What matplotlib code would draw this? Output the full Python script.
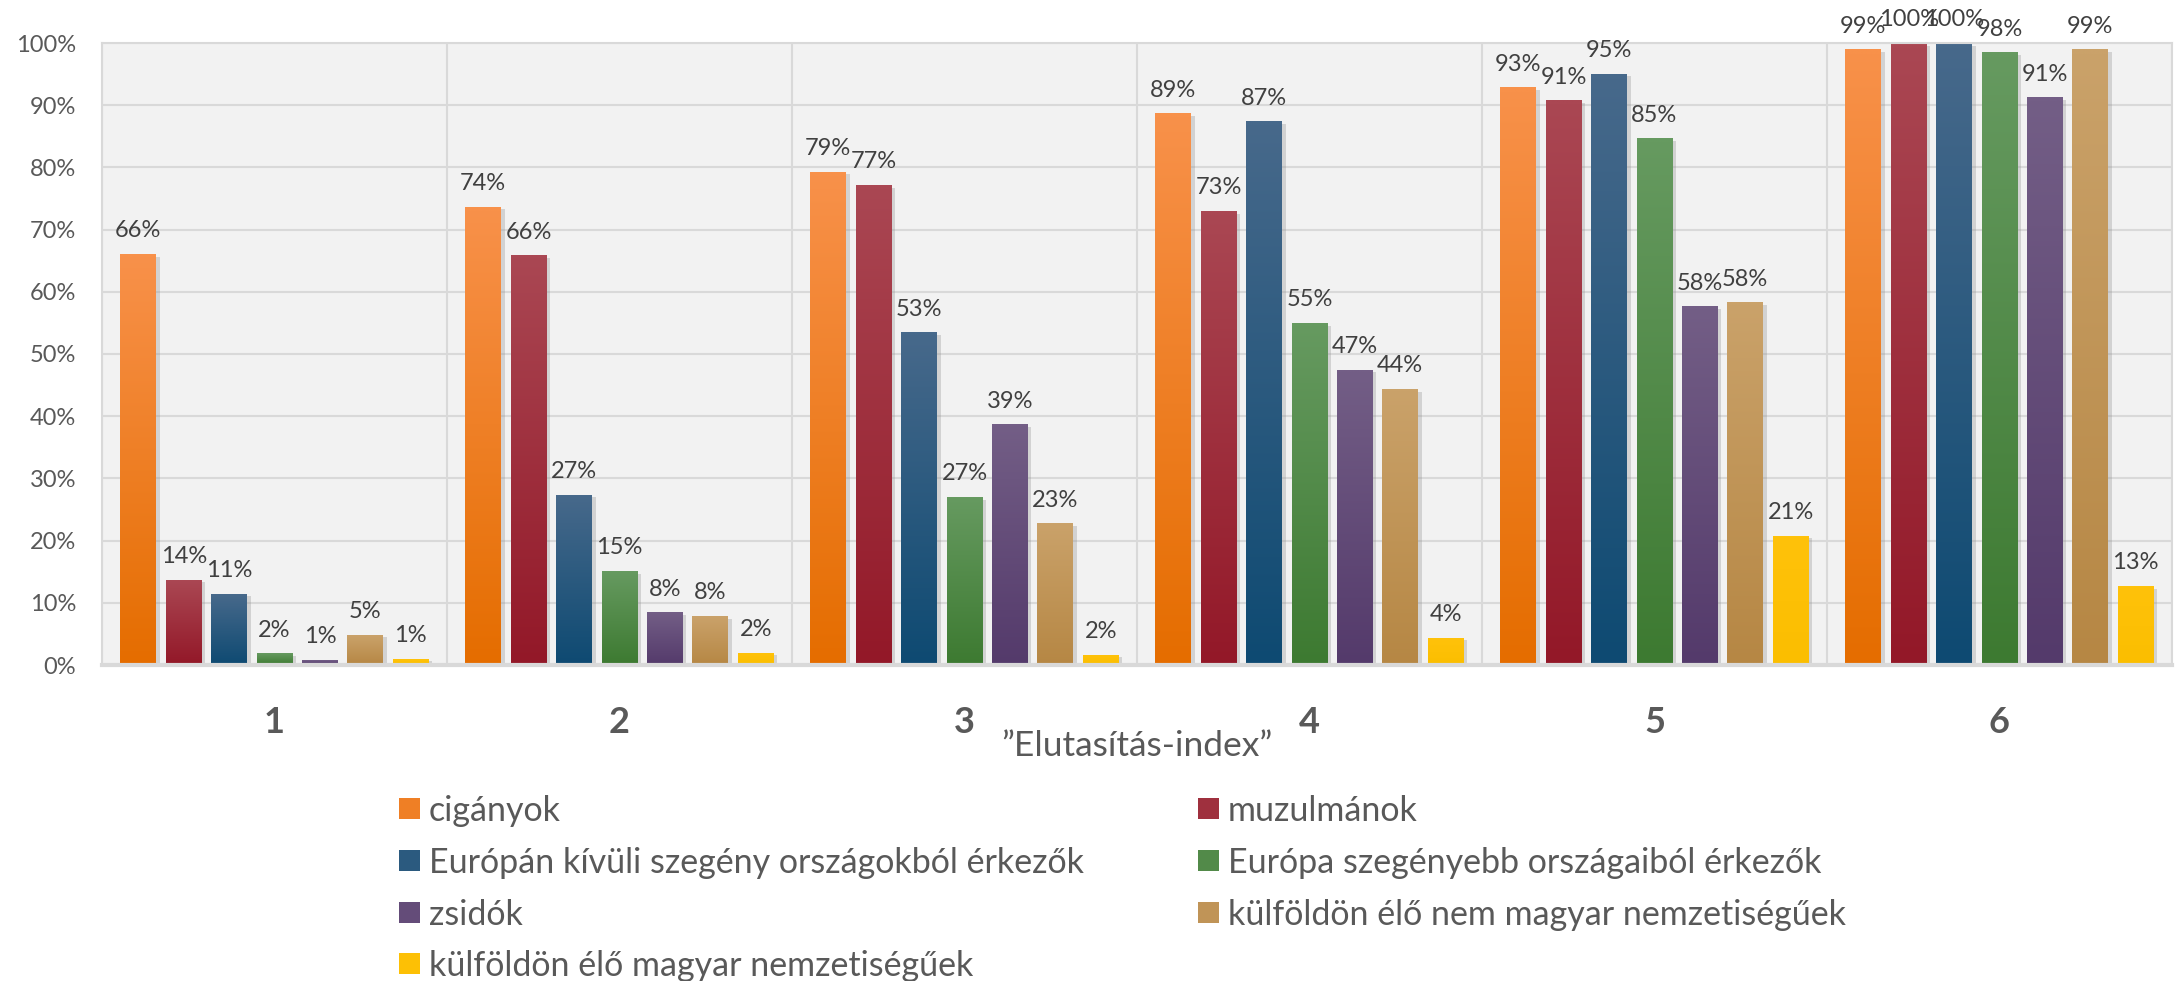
import numpy as np
import matplotlib
matplotlib.use("Agg")
import matplotlib.pyplot as plt
from matplotlib.colors import to_rgb
from matplotlib.patches import Rectangle
import matplotlib.patheffects as pe

plt.rcParams['font.family'] = ['Lato', 'DejaVu Sans']

categories = ['1', '2', '3', '4', '5', '6']
series_names = [
    'cigányok',
    'muzulmánok',
    'Európán kívüli szegény országokból érkezők',
    'Európa szegényebb országaiból érkezők',
    'zsidók',
    'külföldön élő nem magyar nemzetiségűek',
    'külföldön élő magyar nemzetiségűek',
]
ciganyok = [66.0, 73.6, 79.2, 88.6, 92.8, 98.9]
muzulmanok = [13.6, 65.8, 77.1, 72.9, 90.7, 99.9]
europan_kivuli = [11.4, 27.3, 53.4, 87.3, 95.0, 99.9]
europa_szegenyebb = [1.8, 15.0, 26.9, 54.9, 84.6, 98.4]
zsidok = [0.7, 8.4, 38.6, 47.4, 57.6, 91.2]
kulfoldi_nem_magyar = [4.8, 7.8, 22.7, 44.3, 58.2, 98.9]
kulfoldi_magyar = [0.9, 1.9, 1.6, 4.3, 20.7, 12.6]
series_values = [ciganyok, muzulmanok, europan_kivuli, europa_szegenyebb,
                 zsidok, kulfoldi_nem_magyar, kulfoldi_magyar]

# (top, bottom) gradient colours
series_colors = [
    ('#F8914A', '#E56D00'),
    ('#AA4753', '#931828'),
    ('#47698B', '#0E4A72'),
    ('#669A60', '#3D7A31'),
    ('#735E86', '#543A6B'),
    ('#CAA26A', '#B68744'),
    ('#FFC20A', '#FBBE00'),
]

W, H = 2176, 981
fig = plt.figure(figsize=(W / 100, H / 100), dpi=100)
left, right, bottom, top = 102, 2172, 665, 43
ax = fig.add_axes([left / W, 1 - bottom / H, (right - left) / W, (bottom - top) / H])
ax.set_facecolor('#F2F2F2')

x = np.arange(len(categories))
pitch = 0.1316
width = 0.104
n = len(series_names)

for i, (name, vals, (ctop, cbot)) in enumerate(zip(series_names, series_values, series_colors)):
    offs = (i - (n - 1) / 2) * pitch
    vals_f = np.array(vals) / 100.0
    bars = ax.bar(x + offs, vals_f, width=width, facecolor='none', edgecolor='none', zorder=2,
                  label=name)
    grad = np.linspace(0, 1, 64)[:, None, None]
    img = (1 - grad) * np.array(to_rgb(cbot)) + grad * np.array(to_rgb(ctop))
    for b, v in zip(bars, vals):
        bx, bw, bh = b.get_x(), b.get_width(), b.get_height()
        sh = Rectangle((bx, 0), bw, bh, facecolor='#000000', alpha=0.0, zorder=1.9,
                       path_effects=[pe.SimplePatchShadow(offset=(2.5, -1.5), shadow_rgbFace='#8a8a8a', alpha=0.3)])
        ax.add_patch(sh)
        ax.imshow(img, extent=[bx, bx + bw, 0, bh], origin='lower', aspect='auto',
                  interpolation='bilinear', zorder=2)
        ax.annotate(f'{v:.0f}%', xy=(bx + bw / 2, bh), xytext=(0, 12.4), textcoords='offset points',
                    ha='center', va='baseline', fontsize=17, color='#404040', annotation_clip=False)

ax.set_xlim(-0.5, len(categories) - 0.5)
ax.set_ylim(0, 1.0)
yt = np.arange(0, 1.01, 0.1)
ax.set_yticks(yt)
ax.set_yticklabels([f'{int(round(t * 100))}%' for t in yt])
ax.tick_params(axis='y', length=0, pad=18.5, labelsize=17, labelcolor='#595959')
ax.set_xticks(np.arange(len(categories) + 1) - 0.5, minor=False)
ax.set_xticklabels([])
ax.tick_params(axis='x', length=0)
ax.grid(True, which='major', color='#D9D9D9', linewidth=1.5, zorder=0)
ax.set_axisbelow(True)
for s in ['left', 'right', 'top']:
    ax.spines[s].set_color('#D9D9D9')
    ax.spines[s].set_linewidth(1.5)
ax.spines['bottom'].set_color('#D9D9D9')
ax.spines['bottom'].set_linewidth(3)

for i, c in enumerate(categories):
    ax.annotate(c, xy=(i, 0), xycoords=('data', 'axes fraction'), xytext=(0, -49),
                textcoords='offset points', ha='center', va='baseline', fontsize=26,
                fontweight='bold', color='#595959')

ax.annotate('\u201dElutasítás-index\u201d', xy=(0.5, 0), xycoords='axes fraction', xytext=(0, -65.5),
            textcoords='offset points', ha='center', va='baseline', fontsize=25.5, color='#595959')

# legend (two columns)
col_x = [399, 1198]
row_y = [808, 860, 912, 963]
msize = 21
for i, (name, (ctop, cbot)) in enumerate(zip(series_names, series_colors)):
    cx = col_x[i % 2]
    cy = row_y[i // 2]
    mid = 0.5 * (np.array(to_rgb(ctop)) + np.array(to_rgb(cbot)))
    fig.patches.append(Rectangle((cx / W, 1 - (cy + msize / 2) / H), msize / W, msize / H,
                                 transform=fig.transFigure, facecolor=mid, edgecolor='none'))
    fig.text((cx + 30) / W, 1 - cy / H, name, ha='left', va='center_baseline', fontsize=24.5,
             color='#595959')

fig.savefig('out.png', dpi=100, facecolor='white')
